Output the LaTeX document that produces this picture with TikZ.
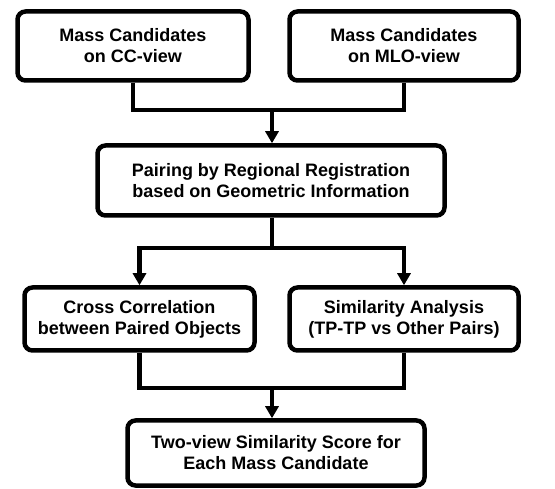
\documentclass[tikz,border=0pt]{standalone}
\usepackage{fontspec}
\setmainfont{Liberation Sans}
\usepackage {tikz}
\usetikzlibrary {positioning}
\usetikzlibrary{arrows.meta}
\tikzset{
    stage/.style = {rectangle, rounded corners=8pt, draw, line width=4.5pt, align=center,
        font=\fontsize{18}{21}\selectfont\bfseries, inner sep=0pt},
    link/.style = {line width=4.5pt},
    flow/.style = {line width=4.5pt, -{Triangle[length=12pt,width=13pt]}}}

\begin{document}
\begin{tikzpicture}[x=1pt, y=1pt, semithick]
    \useasboundingbox (0,0) rectangle (555,-489);
    \node[stage, minimum width=231pt, minimum height=69pt] (CC) at (133,-46) {Mass Candidates\\on CC-view};
    \node[stage, minimum width=229pt, minimum height=69pt] (MLO) at (404,-46) {Mass Candidates\\on MLO-view};
    \node[stage, minimum width=347pt, minimum height=70pt] (Pair) at (271,-180.5) {Pairing by Regional Registration\\based on Geometric Information};
    \node[stage, minimum width=230pt, minimum height=63pt] (Cross) at (139.5,-319) {Cross Correlation\\between Paired Objects};
    \node[stage, minimum width=229pt, minimum height=63pt] (Sim) at (404,-319) {Similarity Analysis\\(TP-TP vs Other Pairs)};
    \node[stage, minimum width=297pt, minimum height=65pt] (Score) at (276,-453) {Two-view Similarity Score for\\Each Mass Candidate};
    \coordinate (J1) at (272,-110);
    \coordinate (J2) at (272,-248);
    \coordinate (J3) at (272,-388);
    \draw[link] (CC.south) |- (J1) -| (MLO.south);
    \draw[flow] (J1) -- (J1 |- Pair.north);
    \draw[link] (Pair.south -| J2) -- (J2);
    \draw[flow] (J2) -| (Cross.north);
    \draw[flow] (J2) -| (Sim.north);
    \draw[link] (Cross.south) |- (J3) -| (Sim.south);
    \draw[flow] (J3) -- (J3 |- Score.north);
\end{tikzpicture}
\end{document}
